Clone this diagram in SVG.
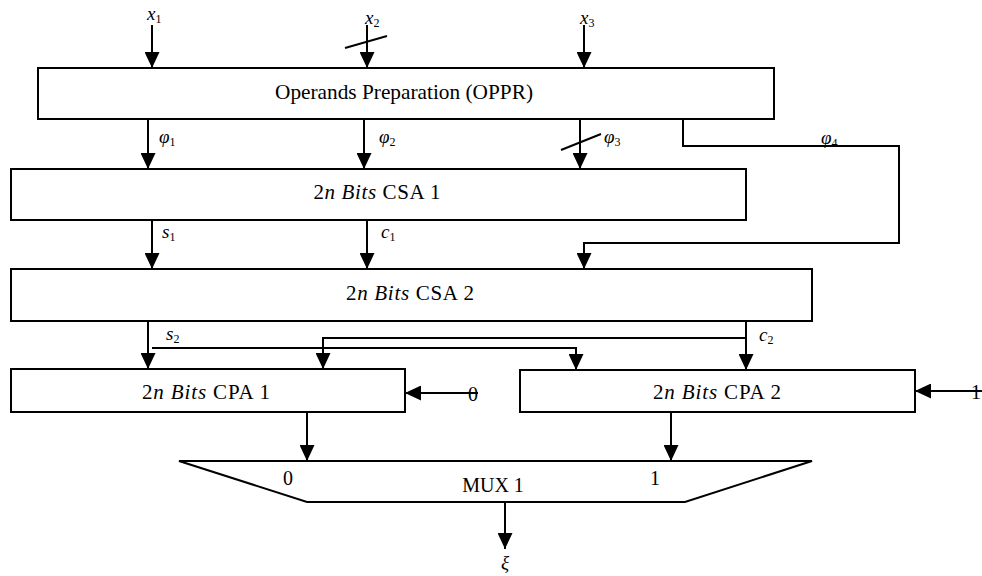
<svg xmlns="http://www.w3.org/2000/svg" width="982" height="576" viewBox="0 0 982 576">
<defs>
<marker id="ah" markerUnits="userSpaceOnUse" markerWidth="16" markerHeight="15" refX="16" refY="7.5" orient="auto">
<path d="M0,0 L16,7.5 L0,15 z" fill="#000"/>
</marker>
<style>
.box{fill:#fff;stroke:#000;stroke-width:2}
.ln{fill:none;stroke:#000;stroke-width:2}
.ar{fill:none;stroke:#000;stroke-width:2;marker-end:url(#ah)}
.t{font-family:"Liberation Serif","Times New Roman",serif;font-size:20px;fill:#000}
.b{font-family:"Liberation Serif","Times New Roman",serif;font-size:21px;fill:#000}
.m{font-family:"Liberation Serif","Times New Roman",serif;font-size:19px;font-style:italic;fill:#000}
.sub{font-size:12px;font-style:normal}
</style>
</defs>
<rect width="982" height="576" fill="#fff"/>

<g id="connectors">
<line class="ar" x1="152" y1="25" x2="152" y2="68"/>
<line class="ar" x1="367" y1="25" x2="367" y2="68"/>
<line class="ln" x1="345" y1="48" x2="387" y2="36"/>
<line class="ar" x1="584" y1="25" x2="584" y2="68"/>
<line class="ar" x1="148" y1="119" x2="148" y2="169"/>
<line class="ar" x1="364" y1="119" x2="364" y2="169"/>
<line class="ar" x1="580" y1="119" x2="580" y2="169"/>
<line class="ln" x1="561" y1="150" x2="601" y2="134"/>
<polyline class="ar" points="683,119 683,146 899,146 899,243 584,243 584,269"/>
<line class="ar" x1="152" y1="220" x2="152" y2="269"/>
<line class="ar" x1="367" y1="220" x2="367" y2="269"/>
<line class="ar" x1="148" y1="321" x2="148" y2="369"/>
<polyline class="ar" points="152,348 576,348 576,370"/>
<line class="ar" x1="746" y1="321" x2="746" y2="370"/>
<polyline class="ar" points="746,338 323,338 323,369"/>
<line class="ar" x1="478" y1="393" x2="405" y2="393"/>
<line class="ar" x1="982" y1="391" x2="915" y2="391"/>
<line class="ar" x1="307" y1="412" x2="307" y2="461"/>
<line class="ar" x1="671" y1="412" x2="671" y2="461"/>
<line class="ar" x1="505" y1="502" x2="505" y2="549"/>
</g>

<g id="labels">
<text class="m" x="147" y="20">x<tspan class="sub" dy="3">1</tspan></text>
<text class="m" x="365" y="24">x<tspan class="sub" dy="3">2</tspan></text>
<text class="m" x="580" y="24">x<tspan class="sub" dy="3">3</tspan></text>
<text class="m" x="159" y="143">φ<tspan class="sub" dy="3">1</tspan></text>
<text class="m" x="379" y="143">φ<tspan class="sub" dy="3">2</tspan></text>
<text class="m" x="604" y="143">φ<tspan class="sub" dy="3">3</tspan></text>
<text class="m" x="821" y="144">φ<tspan class="sub" dy="3">4</tspan></text>
<text class="m" x="162" y="238">s<tspan class="sub" dy="3">1</tspan></text>
<text class="m" x="381" y="238">c<tspan class="sub" dy="3">1</tspan></text>
<text class="m" x="166" y="340">s<tspan class="sub" dy="3">2</tspan></text>
<text class="m" x="759" y="341">c<tspan class="sub" dy="3">2</tspan></text>
<text class="t" x="473" y="401" text-anchor="middle">0</text>
<text class="t" x="971" y="399">1</text>
<text class="m" x="505" y="569" text-anchor="middle">ξ</text>
</g>

<g id="oppr">
<rect class="box" x="38" y="68" width="736" height="51"/>
<text class="b" x="404" y="99" text-anchor="middle" textLength="258" lengthAdjust="spacingAndGlyphs">Operands Preparation (OPPR)</text>
</g>

<g id="csa1">
<rect class="box" x="11" y="169" width="735" height="51"/>
<text class="b" x="377" y="199" text-anchor="middle" textLength="127">2<tspan font-style="italic">n Bits</tspan> CSA 1</text>
</g>

<g id="csa2">
<rect class="box" x="11" y="269" width="801" height="52"/>
<text class="b" x="410" y="300" text-anchor="middle" textLength="128">2<tspan font-style="italic">n Bits</tspan> CSA 2</text>
</g>

<g id="cpa1">
<rect class="box" x="11" y="369" width="394" height="43"/>
<text class="b" x="206" y="399" text-anchor="middle" textLength="128">2<tspan font-style="italic">n Bits</tspan> CPA 1</text>
</g>

<g id="cpa2">
<rect class="box" x="520" y="370" width="395" height="42"/>
<text class="b" x="717" y="399" text-anchor="middle" textLength="128">2<tspan font-style="italic">n Bits</tspan> CPA 2</text>
</g>

<g id="mux1">
<polygon class="box" points="179,461 812,461 685,502 307,502"/>
<text class="t" x="288" y="485" text-anchor="middle">0</text>
<text class="t" x="655" y="485" text-anchor="middle">1</text>
<text class="t" x="493" y="492" text-anchor="middle">MUX 1</text>
</g>
</svg>
